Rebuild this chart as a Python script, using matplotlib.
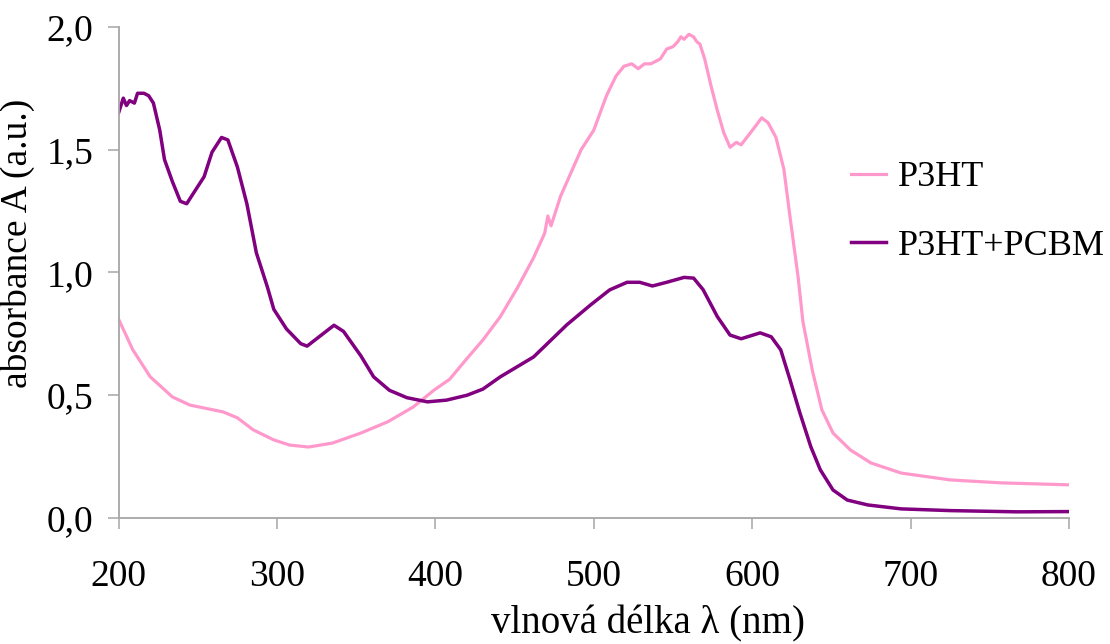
"""Absorption spectra of P3HT and P3HT+PCBM."""

import matplotlib

matplotlib.use("Agg")
import matplotlib.pyplot as plt

plt.rcParams["font.family"] = ["Liberation Serif", "DejaVu Serif"]

# P3HT
p3ht_nm = [200, 209, 220, 234, 245, 260, 266, 275, 285, 298, 308, 320, 335, 353,
           370, 386, 399, 409, 420, 430, 441, 452, 462, 469, 471, 473, 479, 492,
           500, 508, 511, 514, 519, 524, 528, 532, 536, 542, 546, 550, 553, 555,
           557, 560, 563, 565, 567, 570, 574, 578, 582, 586, 590, 593, 599, 606,
           610, 615, 620, 624, 629, 632, 638, 644, 651, 662, 675, 694, 725, 757, 800]
p3ht_abs = [0.81, 0.685, 0.575, 0.493, 0.46, 0.44, 0.432, 0.408, 0.359, 0.318,
            0.297, 0.289, 0.305, 0.346, 0.392, 0.452, 0.52, 0.565, 0.65, 0.725,
            0.82, 0.94, 1.06, 1.16, 1.23, 1.19, 1.31, 1.50, 1.58, 1.72, 1.76, 1.80,
            1.84, 1.85, 1.83, 1.85, 1.85, 1.87, 1.91, 1.92, 1.94, 1.96, 1.95, 1.97,
            1.96, 1.94, 1.93, 1.87, 1.76, 1.66, 1.57, 1.51, 1.53, 1.52, 1.57, 1.63,
            1.61, 1.55, 1.42, 1.22, 0.98, 0.80, 0.60, 0.44, 0.346, 0.277, 0.224,
            0.183, 0.155, 0.143, 0.135]

# P3HT+PCBM
blend_nm = [200, 203, 205, 207, 210, 212, 216, 219, 222, 226, 229, 234, 239, 243,
            247, 254, 259, 265, 269, 275, 281, 287, 294, 298, 306, 315, 319, 327,
            336, 342, 353, 361, 371, 382, 395, 407, 420, 430, 441, 462, 483, 498,
            510, 521, 529, 537, 546, 557, 563, 569, 578, 586, 593, 605, 612, 618,
            624, 630, 637, 643, 651, 660, 673, 694, 725, 767, 800]
blend_abs = [1.65, 1.71, 1.68, 1.70, 1.69, 1.73, 1.73, 1.72, 1.69, 1.58, 1.46,
             1.37, 1.29, 1.28, 1.32, 1.39, 1.49, 1.55, 1.54, 1.43, 1.28, 1.08,
             0.94, 0.85, 0.77, 0.71, 0.70, 0.74, 0.785, 0.76, 0.66, 0.575, 0.52,
             0.49, 0.473, 0.48, 0.50, 0.525, 0.575, 0.656, 0.787, 0.868, 0.929,
             0.96, 0.96, 0.945, 0.96, 0.98, 0.977, 0.93, 0.82, 0.745, 0.73, 0.754,
             0.738, 0.685, 0.56, 0.43, 0.29, 0.196, 0.114, 0.073, 0.053, 0.037,
             0.03, 0.025, 0.026]

x_ticks = [200, 300, 400, 500, 600, 700, 800]
y_ticks = [0.0, 0.5, 1.0, 1.5, 2.0]
y_tick_labels = ["0,0", "0,5", "1,0", "1,5", "2,0"]

fig = plt.figure(figsize=(11.1, 6.44), dpi=100)
ax = fig.add_axes([0.1068, 0.1957, 0.8563, 0.7624])

ax.plot(p3ht_nm, p3ht_abs, color="#FF99CC", lw=2.3, label="P3HT")
ax.plot(blend_nm, blend_abs, color="#800080", lw=2.5, label="P3HT+PCBM")

ax.set_xlim(200, 800)
ax.set_ylim(0, 2.0)
ax.set_xticks(x_ticks)
ax.set_yticks(y_ticks)
ax.set_yticklabels(y_tick_labels)

for side in ("top", "right"):
    ax.spines[side].set_visible(False)
for side in ("left", "bottom"):
    ax.spines[side].set_color("#a6a6a6")
    ax.spines[side].set_linewidth(1.3)
ax.tick_params(direction="out", length=8, width=1.1, color="#a6a6a6",
               labelsize=27, pad=10)
ax.tick_params(axis="x", pad=22)

ax.set_xlabel("vlnová délka λ (nm)", fontsize=28)
ax.set_ylabel("absorbance A (a.u.)", fontsize=27)
ax.xaxis.set_label_coords(0.557, -0.178)
ax.yaxis.set_label_coords(-0.088, 0.56)

ax.legend(loc="upper left", bbox_to_anchor=(851 / 1110, 1 - 161 / 644),
          bbox_transform=fig.transFigure, frameon=False, fontsize=26,
          handlelength=0.98, handletextpad=0.32, labelspacing=0.98,
          borderaxespad=0, borderpad=0)

fig.savefig("out.png", dpi=100)
plt.close(fig)
